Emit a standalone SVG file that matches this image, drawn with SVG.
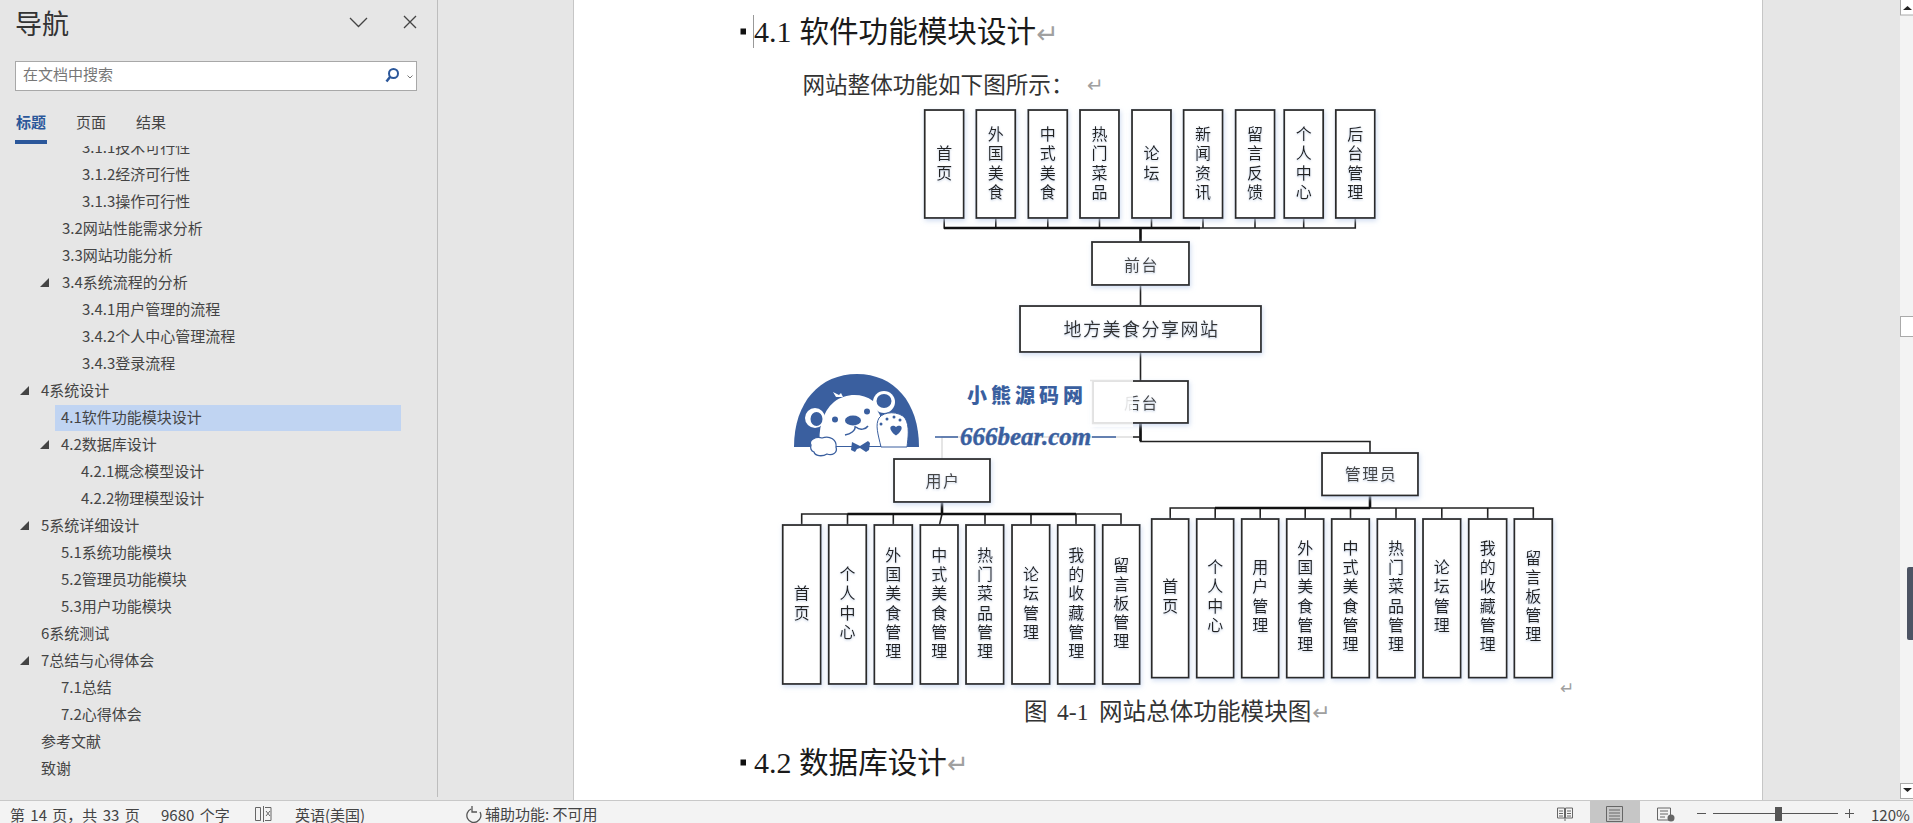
<svg xmlns="http://www.w3.org/2000/svg" width="1913" height="823" viewBox="0 0 1913 823">
<style>
text{font-family:"Noto Sans CJK SC","Noto Sans",sans-serif}
.nav{font-size:15px;fill:#444;dominant-baseline:central;transform:translateY(-1.5px)}
.st{font-size:15px;fill:#444;dominant-baseline:central}
.ws{word-spacing:2px}
.box{fill:#fff;stroke:#2c2c2c;stroke-width:1.8;filter:url(#sh)}
.v{writing-mode:vertical-rl;text-anchor:middle;letter-spacing:3.2px;font-size:16px;fill:#222;filter:url(#ts);transform:translateY(1.5px)}
.h{text-anchor:middle;dominant-baseline:central;font-size:16px;letter-spacing:1.5px;fill:#444;filter:url(#ts);transform:translateX(1px)}
.c{fill:none;stroke:#222;stroke-width:1.6}
.ct{fill:none;stroke:#111;stroke-width:2.6}
.f{fill:none;stroke:#ddd;stroke-width:1.5}
.ret{font-family:"DejaVu Sans",sans-serif;fill:#a0a0a0}
.hd{font-size:29.6px;fill:#1a1a1a}
.num{font-family:"Liberation Serif",serif}
.ic{fill:none;stroke:#666;stroke-width:1}
.tri{fill:#444}
</style>
<defs>
<filter id="sh" x="-30%" y="-30%" width="160%" height="160%"><feDropShadow dx="1" dy="2" stdDeviation="2.5" flood-color="#c4d4ee" flood-opacity=".8"/></filter>
<filter id="ts" x="-30%" y="-30%" width="160%" height="160%"><feDropShadow dx="0" dy="1" stdDeviation="1" flood-color="#b4c4de" flood-opacity=".8"/></filter>
<clipPath id="navclip"><rect x="0" y="146" width="437" height="654"/></clipPath>
</defs>

<rect width="1913" height="823" fill="#e6e6e6"/>
<rect x="574" y="0" width="1188" height="800" fill="#fff"/>
<path d="M573.5 0V800M1762.5 0V800" stroke="#c6c6c6" fill="none"/>
<path d="M437.5 0V797" stroke="#bdbdbd" fill="none"/>

<g id="nav-head">
<text x="15" y="34" font-size="27" fill="#333">导航</text>
<path d="M350 18l8.500 8.500 8.500-8.500M404 16l12 12M416 16l-12 12" fill="none" stroke="#444" stroke-width="1.300"/>
<rect x="15.500" y="61.500" width="401" height="29" fill="#fff" stroke="#a8a8a8"/>
<text class="nav" x="23" y="75" style="fill:#777">在文档中搜索</text>
<circle cx="393.500" cy="73.500" r="4.500" fill="none" stroke="#2b579a" stroke-width="2"/>
<path d="M390 77l-3.500 4.500" stroke="#2b579a" stroke-width="2.500"/>
<path d="M407.500 75.500l2.500 2.500 2.500-2.500" fill="none" stroke="#777"/>
<text class="nav" x="16" y="123" font-weight="700" style="fill:#2b579a">标题</text>
<text class="nav" x="76" y="123">页面</text>
<text class="nav" x="136" y="123">结果</text>
<rect x="15" y="140" width="32" height="4" fill="#2b579a"/>
</g>

<g id="nav-tree" clip-path="url(#navclip)">
<rect x="55" y="405" width="346" height="26" fill="#c0d4f2"/>
<text class="nav" x="82" y="148">3.1.1技术可行性</text>
<text class="nav" x="82" y="175">3.1.2经济可行性</text>
<text class="nav" x="82" y="202">3.1.3操作可行性</text>
<text class="nav" x="62" y="229">3.2网站性能需求分析</text>
<text class="nav" x="62" y="256">3.3网站功能分析</text>
<path class="tri" d="M49 278V287H40Z"/>
<text class="nav" x="62" y="283">3.4系统流程的分析</text>
<text class="nav" x="82" y="310">3.4.1用户管理的流程</text>
<text class="nav" x="82" y="337">3.4.2个人中心管理流程</text>
<text class="nav" x="82" y="364">3.4.3登录流程</text>
<path class="tri" d="M29 386V395H20Z"/>
<text class="nav" x="41" y="391">4系统设计</text>
<text class="nav" x="61" y="418">4.1软件功能模块设计</text>
<path class="tri" d="M49 440V449H40Z"/>
<text class="nav" x="61" y="445">4.2数据库设计</text>
<text class="nav" x="81" y="472">4.2.1概念模型设计</text>
<text class="nav" x="81" y="499">4.2.2物理模型设计</text>
<path class="tri" d="M29 521V530H20Z"/>
<text class="nav" x="41" y="526">5系统详细设计</text>
<text class="nav" x="61" y="553">5.1系统功能模块</text>
<text class="nav" x="61" y="580">5.2管理员功能模块</text>
<text class="nav" x="61" y="607">5.3用户功能模块</text>
<text class="nav" x="41" y="634">6系统测试</text>
<path class="tri" d="M29 656V665H20Z"/>
<text class="nav" x="41" y="661">7总结与心得体会</text>
<text class="nav" x="61" y="688">7.1总结</text>
<text class="nav" x="61" y="715">7.2心得体会</text>
<text class="nav" x="41" y="742">参考文献</text>
<text class="nav" x="41" y="769">致谢</text>
</g>

<g id="page-text">
<rect x="740.500" y="28.500" width="5.500" height="6" fill="#111"/>
<path d="M753.500 15V48" stroke="#999"/>
<text x="754" y="42" class="hd"><tspan class="num" font-size="30">4.1</tspan><tspan x="799.400">软件功能模块设计</tspan></text>
<text class="ret" x="1036" y="43" font-size="27">↵</text>
<text x="802.400" y="93" font-size="22.600" fill="#333">网站整体功能如下图所示：</text>
<text class="ret" x="1087" y="92" font-size="20">↵</text>
<text x="1024" y="720" font-size="23.600" fill="#333">图<tspan class="num" x="1057">4-1</tspan><tspan x="1099">网站总体功能模块图</tspan></text>
<text class="ret" x="1312" y="720" font-size="22">↵</text>
<text class="ret" x="1560" y="694" font-size="17">↵</text>
<rect x="740.500" y="759.500" width="5.500" height="6" fill="#111"/>
<text x="754" y="773" class="hd"><tspan class="num" font-size="30">4.2</tspan><tspan x="799">数据库设计</tspan></text>
<text class="ret" x="947" y="773" font-size="26">↵</text>
</g>

<g id="connectors">
<path class="c" d="M944.200 218V228H1355.300V218M995.800 218V228M1047.800 218V228M1099.500 218V228M1151.500 218V228M1203 218V228M1255 218V228M1303.700 218V228"/>
<path class="ct" d="M944 228H1200M1140.500 228V242"/>
<path class="c" d="M1140.500 285V306M1140.500 352V381M1140.500 423V441.500H1370V453"/>
<path class="ct" d="M1140.500 423V441"/>
<path class="c" d="M1140.500 437H1133"/>
<path class="f" d="M1133 437H942V459"/>
<path class="ct" d="M942 502V514"/>
<path class="c" d="M801.700 524.700V514H1121V524.700M847.500 514V524.700M893.300 514V524.700M942 514L939.500 524.700M985 514V524.700M1031 514V524.700M1076 514V524.700"/>
<path class="ct" d="M847.500 514H1076"/>
<path class="ct" d="M1370 495.500V508"/>
<path class="c" d="M1170.200 519V508H1533.300V519M1215.200 508V519M1260.200 508V519M1305.200 508V519M1350.500 508V519M1396 508V519M1441.800 508V519M1487.700 508V519"/>
<path class="ct" d="M1215 508H1370"/>
</g>

<g id="top-1"><rect class="box" x="924.700" y="110" width="39" height="108"/><text class="v" x="944.200" y="163">首页</text></g>
<g id="top-2"><rect class="box" x="976.300" y="110" width="39" height="108"/><text class="v" x="995.800" y="163">外国美食</text></g>
<g id="top-3"><rect class="box" x="1028.300" y="110" width="39" height="108"/><text class="v" x="1047.800" y="163">中式美食</text></g>
<g id="top-4"><rect class="box" x="1080" y="110" width="39" height="108"/><text class="v" x="1099.500" y="163">热门菜品</text></g>
<g id="top-5"><rect class="box" x="1132" y="110" width="39" height="108"/><text class="v" x="1151.500" y="163">论坛</text></g>
<g id="top-6"><rect class="box" x="1183.600" y="110" width="39" height="108"/><text class="v" x="1203" y="163">新闻资讯</text></g>
<g id="top-7"><rect class="box" x="1235.600" y="110" width="39" height="108"/><text class="v" x="1255" y="163">留言反馈</text></g>
<g id="top-8"><rect class="box" x="1284.200" y="110" width="39" height="108"/><text class="v" x="1303.700" y="163">个人中心</text></g>
<g id="top-9"><rect class="box" x="1335.800" y="110" width="39" height="108"/><text class="v" x="1355.300" y="163">后台管理</text></g>

<g id="qiantai"><rect class="box" x="1092" y="242" width="97" height="43"/><text class="h" x="1140.500" y="263.500">前台</text></g>
<g id="root"><rect class="box" x="1020" y="306" width="241" height="46"/><text class="h" x="1140.500" y="328" style="font-size:18px;fill:#333">地方美食分享网站</text></g>
<g id="houtai"><rect class="box" x="1093" y="381" width="95" height="42"/><text class="h" x="1140.500" y="402">后台</text></g>
<g id="yonghu"><rect class="box" x="894" y="459" width="96" height="43"/><text class="h" x="942" y="480">用户</text></g>
<g id="guanliyuan"><rect class="box" x="1322" y="453" width="96" height="42.500"/><text class="h" x="1370" y="473">管理员</text></g>

<g id="u-1"><rect class="box" x="782.700" y="525" width="38" height="159"/><text class="v" x="801.700" y="603">首页</text></g>
<g id="u-2"><rect class="box" x="828.700" y="525" width="37.600" height="159"/><text class="v" x="847.500" y="603">个人中心</text></g>
<g id="u-3"><rect class="box" x="874.300" y="525" width="38" height="159"/><text class="v" x="893.300" y="603">外国美食管理</text></g>
<g id="u-4"><rect class="box" x="920.300" y="525" width="37.700" height="159"/><text class="v" x="939.200" y="603">中式美食管理</text></g>
<g id="u-5"><rect class="box" x="966" y="525" width="37.700" height="159"/><text class="v" x="985" y="603">热门菜品管理</text></g>
<g id="u-6"><rect class="box" x="1012" y="525" width="37.700" height="159"/><text class="v" x="1031" y="603">论坛管理</text></g>
<g id="u-7"><rect class="box" x="1057.700" y="525" width="37" height="159"/><text class="v" x="1076.200" y="603">我的收藏管理</text></g>
<g id="u-8"><rect class="box" x="1102.700" y="525" width="37" height="159"/><text class="v" x="1121.200" y="603">留言板管理</text></g>

<g id="a-1"><rect class="box" x="1151.700" y="519" width="37" height="158.700"/><text class="v" x="1170.200" y="596">首页</text></g>
<g id="a-2"><rect class="box" x="1196.700" y="519" width="37" height="158.700"/><text class="v" x="1215.200" y="596">个人中心</text></g>
<g id="a-3"><rect class="box" x="1241.700" y="519" width="37" height="158.700"/><text class="v" x="1260.200" y="596">用户管理</text></g>
<g id="a-4"><rect class="box" x="1286.700" y="519" width="37" height="158.700"/><text class="v" x="1305.200" y="596">外国美食管理</text></g>
<g id="a-5"><rect class="box" x="1331.700" y="519" width="37.600" height="158.700"/><text class="v" x="1350.500" y="596">中式美食管理</text></g>
<g id="a-6"><rect class="box" x="1377.300" y="519" width="37.700" height="158.700"/><text class="v" x="1396" y="596">热门菜品管理</text></g>
<g id="a-7"><rect class="box" x="1423" y="519" width="37.700" height="158.700"/><text class="v" x="1441.800" y="596">论坛管理</text></g>
<g id="a-8"><rect class="box" x="1468.700" y="519" width="38" height="158.700"/><text class="v" x="1487.700" y="596">我的收藏管理</text></g>
<g id="a-9"><rect class="box" x="1514.300" y="519" width="38" height="158.700"/><text class="v" x="1533.300" y="596">留言板管理</text></g>

<g id="watermark">
<rect x="1090" y="377" width="43" height="50" fill="#fff" opacity=".85"/>
<path d="M1090 380.500H1133M1092.500 380.500V423.500H1133" fill="none" stroke="#e4e4e4" stroke-width="1.300"/>
<path d="M794 447C794 402 820 374 857 374C894 374 919 402 919 447Z" fill="#3a5f9f"/>
<path d="M820 447C818 430 822 412 834 402C846 393 862 393 873 401L877 410C885 422 884 435 880 447Z" fill="#fff"/>
<path d="M836 397l-3-5 6 3 2-2 2 4z" fill="#fff"/>
<circle cx="815" cy="418" r="10" fill="#fff"/><ellipse cx="816.500" cy="419" rx="6" ry="7" fill="#3a5f9f"/>
<circle cx="884" cy="402" r="11" fill="#fff"/><ellipse cx="884" cy="401" rx="7.500" ry="7" fill="#3a5f9f"/>
<circle cx="835" cy="419.500" r="3" fill="#3a5f9f"/><circle cx="867" cy="411.500" r="3" fill="#3a5f9f"/>
<ellipse cx="853" cy="420.500" rx="8" ry="5" fill="#3a5f9f"/>
<path d="M855 426C856 431 850 434 845 435M856 427C860 431 866 429 868 426" fill="none" stroke="#3a5f9f" stroke-width="1.500"/>
<path d="M881 447C878 434 875 425 879 418C884 411 899 411 905 418C910 426 908 438 907 447Z" fill="#fff" stroke="#3a5f9f"/>
<path d="M890.500 427c2-2 4-1 5.500 0 1.500-1 4-2 5.500 0 1 3-3 7-5.500 8.500-2.500-1.500-6.500-5.500-5.500-8.500z" fill="#3a5f9f"/>
<circle cx="881" cy="424" r="1.500" fill="#3a5f9f"/><circle cx="887" cy="419" r="1.500" fill="#3a5f9f"/><circle cx="894" cy="417" r="1.500" fill="#3a5f9f"/><circle cx="900" cy="420" r="1.500" fill="#3a5f9f"/>
<path d="M811 445C808 440 816 436 822 438C830 435 837 440 836 447C838 453 832 456 827 454C822 457 815 456 814 452C811 451 810 448 811 445Z" fill="#fff" stroke="#3a5f9f" stroke-width="1.300"/>
<path d="M836 446.500H881" stroke="#3a5f9f" stroke-width="1"/>
<path d="M852 442l8 4 8-5 2 2-1 7-3 2-6-4-3 1-2 3-4-2z" fill="#3a5f9f"/>
<text x="967" y="403" font-size="20" font-weight="900" letter-spacing="4" fill="#3a5f9f">小熊源码网</text>
<path d="M935 437H958M1092 437H1116" stroke="#3a5f9f" stroke-width="1.500"/>
<text x="960" y="445" style="font-family:'Liberation Serif',serif" font-size="25" font-weight="700" font-style="italic" fill="#3a5f9f" stroke="#3a5f9f" stroke-width=".4">666bear.com</text>
</g>

<g id="scrollbar">
<rect x="1900" y="0" width="13" height="800" fill="#f3f3f3"/>
<rect x="1900.500" y="-1" width="14" height="16" fill="#fff" stroke="#aaa"/>
<path d="M1903 10l4.500-4 4.500 4z" fill="#222"/>
<rect x="1900.500" y="316.500" width="14" height="20" fill="#fff" stroke="#aaa"/>
<rect x="1907" y="567" width="8" height="73" rx="2" fill="#4d5464"/>
<rect x="1900.500" y="783.500" width="14" height="15" fill="#fff" stroke="#aaa"/>
<path d="M1903 788l4.500 4 4.500-4z" fill="#222"/>
</g>

<g id="statusbar">
<rect x="0" y="800" width="1913" height="23" fill="#f3f3f3"/>
<path d="M0 800.500H1913" stroke="#c8c8c8"/>
<text class="st ws" x="10" y="814">第 14 页，共 33 页</text>
<text class="st ws" x="161" y="814">9680 个字</text>
<path class="ic" d="M255.500 807.500h5v13h-5zM263.500 806v16M265 807.500h6v13h-6"/>
<path d="M266 811l4 5M270 811l-4 5" stroke="#666"/>
<text class="st" x="295" y="814">英语(美国)</text>
<path d="M471 809a7 7 0 1 0 9 3M472 806v6h5" fill="none" stroke="#555" stroke-width="1.300"/>
<text class="st" x="485" y="813">辅助功能: 不可用</text>
<path class="ic" d="M1557.500 808h7v10h-7zM1565.500 808h7v10h-7zM1565 818v3M1559 811h4M1559 813.500h4M1559 816h4M1567 811h4M1567 813.500h4M1567 816h4"/>
<rect x="1590" y="801" width="50" height="22" fill="#c6c6c6"/>
<path class="ic" d="M1606.500 806.500h16v15h-16zM1609 810h11M1609 813h11M1609 816h11M1609 819h11"/>
<path class="ic" d="M1657.500 808h13v12h-13zM1660 811h8M1660 814h8M1660 817h5"/>
<circle cx="1671" cy="818" r="3.500" fill="#666"/>
<path d="M1697 813.500h9M1713 813.500h125M1845 813.500h9M1849.500 809v9" stroke="#555" fill="none"/>
<rect x="1775" y="807" width="7" height="14" fill="#555"/>
<text class="st" x="1871" y="814">120%</text>
</g>
</svg>
